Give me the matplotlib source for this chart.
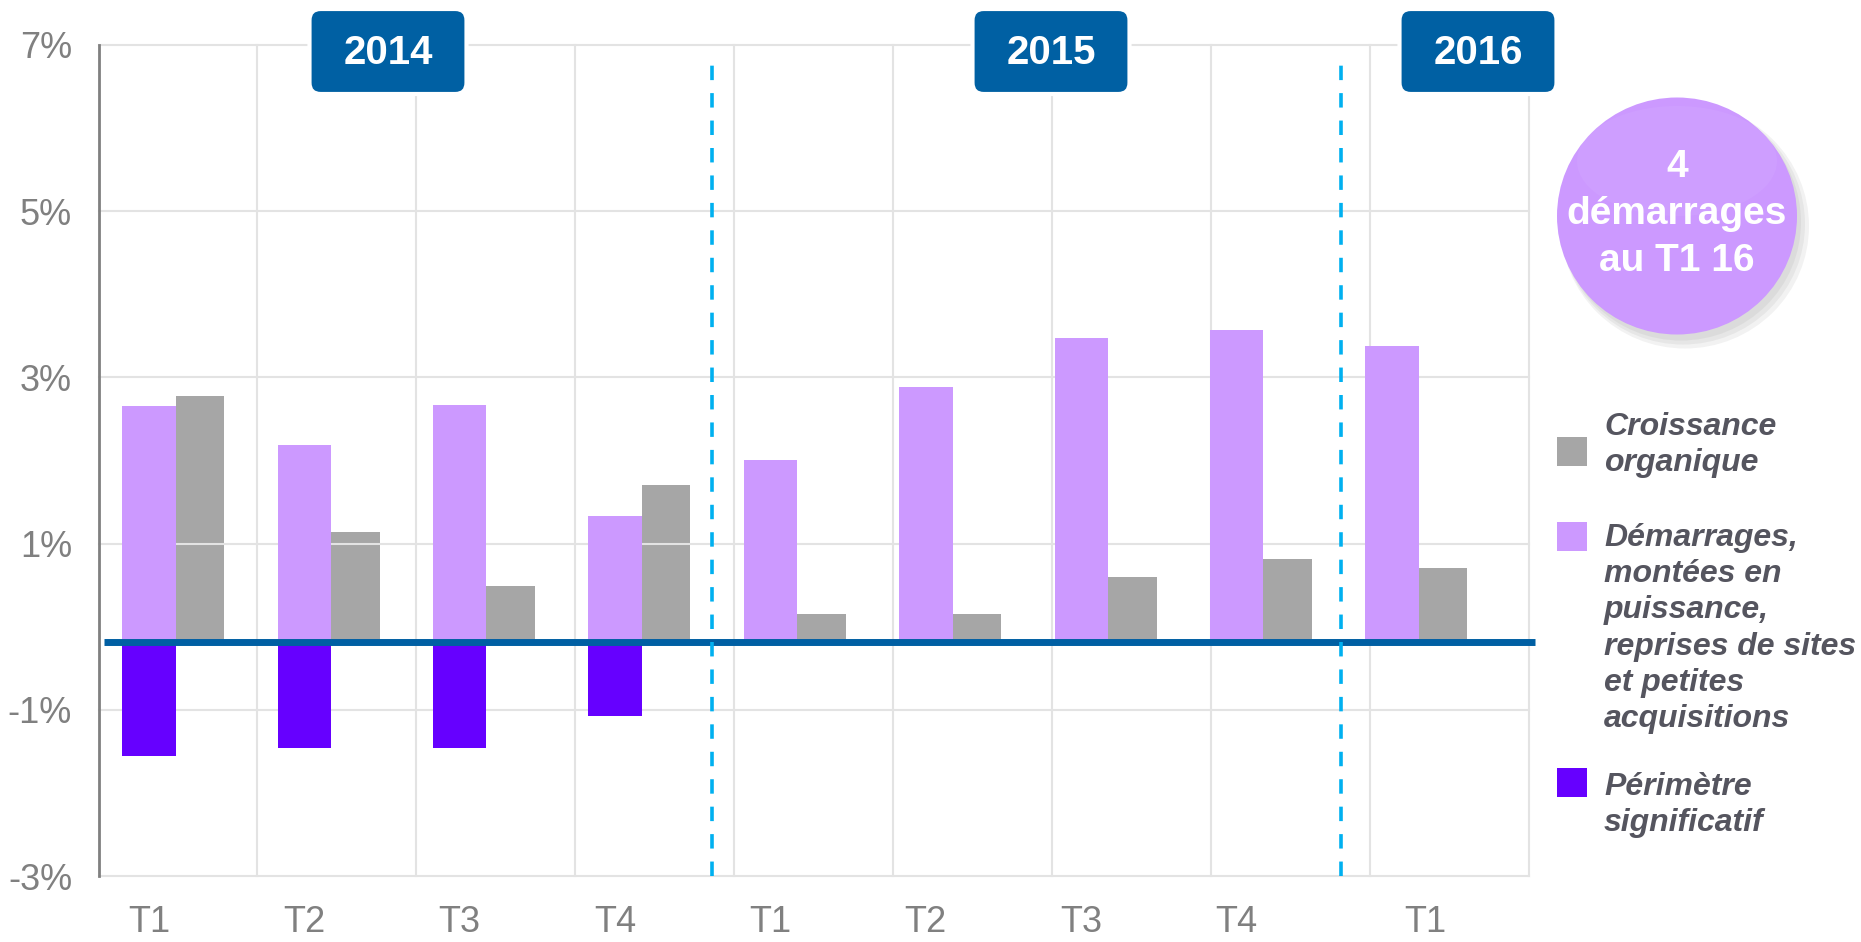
import numpy as np
import matplotlib
matplotlib.use("Agg")
import matplotlib.pyplot as plt
from matplotlib.patches import FancyBboxPatch, Ellipse, Rectangle

# data (bar heights in % measured from the blue baseline)
quarters = ['T1', 'T2', 'T3', 'T4', 'T1', 'T2', 'T3', 'T4', 'T1']
years = ['2014', '2015', '2016']
organic = [2.97, 1.33, 0.68, 1.89, 0.34, 0.34, 0.79, 1.01, 0.90]
startups = [2.85, 2.38, 2.86, 1.52, 2.20, 3.08, 3.66, 3.76, 3.57]
perimeter = [-1.36, -1.27, -1.27, -0.89, 0, 0, 0, 0, 0]
yticks = [-3, -1, 1, 3, 5, 7]
legend_labels = ['Croissance\norganique',
                 'Démarrages,\nmontées en\npuissance,\nreprises de sites\net petites\nacquisitions',
                 'Périmètre\nsignificatif']
bubble_text = '4\ndémarrages\nau T1 16'

base = -0.19
c_org, c_start, c_per = '#A6A6A6', '#CC99FF', '#6600FF'
c_blue = '#005FA3'

plt.rcParams['font.family'] = ['Liberation Sans Narrow', 'Liberation Sans', 'DejaVu Sans']

W, H = 1861, 942
fig = plt.figure(figsize=(W / 100, H / 100), dpi=100)
ax = fig.add_axes([98.5 / W, 66 / H, 1430 / W, 831 / H])
ax.set_xlim(0, 9)
ax.set_ylim(-3, 7)

# grid
for y in yticks:
    ax.plot([0, 9], [y, y], color='#E3E3E3', lw=1.5, zorder=2, clip_on=False)
for xv in range(1, 10):
    ax.plot([xv, xv], [-3, 7], color='#E3E3E3', lw=1.5, zorder=2, clip_on=False)

x = np.arange(len(quarters))
pitch = 0.978
pw, gw = 0.336, 0.306
left = 0.149 + pitch * x
ax.bar(left, startups, width=pw, bottom=base, align='edge', color=c_start, zorder=3)
ax.bar(left + pw, organic, width=gw, bottom=base, align='edge', color=c_org, zorder=1)
ax.bar(left, perimeter, width=pw, bottom=base, align='edge', color=c_per, zorder=3)

ax.plot([0.034, 9.04], [base, base], color=c_blue, lw=5, zorder=4, clip_on=False,
        solid_capstyle='butt')
for xv in [3.86, 7.82]:
    ax.plot([xv, xv], [-3, 6.9], color='#00B0F0', lw=2.6, dashes=(4, 3.6), zorder=4)

for s in ['top', 'right', 'bottom']:
    ax.spines[s].set_visible(False)
ax.spines['left'].set_color('#808080')
ax.spines['left'].set_linewidth(2)
ax.set_yticks(yticks, [f'{v}%' for v in yticks])
tick_x = left + pw / 2
tick_x[-1] += 0.21
ax.set_xticks(tick_x, quarters)
ax.tick_params(axis='y', length=0, pad=19, labelsize=26, labelcolor='#808080')
ax.tick_params(axis='x', length=0, pad=21, labelsize=26, labelcolor='#808080')

# year badges
bw, bh = 157 / W, 85 / H
for cx, yr in zip([388 / W, 1051 / W, 1478 / W], years):
    y0 = 1 - 94 / H
    fig.add_artist(FancyBboxPatch((cx - bw / 2, y0), bw, bh,
                                  boxstyle='round,pad=0,rounding_size=0.006',
                                  mutation_aspect=W / H, transform=fig.transFigure,
                                  fc='#0060A3', ec='white', lw=3, zorder=5))
    fig.text(cx, y0 + bh / 2 - 2 / H, yr, ha='center', va='center', color='white',
             fontsize=29, fontweight='bold', family='Liberation Sans', zorder=6)

# bubble
bx, by = 1677 / W, 1 - 216 / H
for k in range(3):
    fig.add_artist(Ellipse((bx + (4 + 2 * k) / W, by - (6 + 2 * k) / H),
                           (240 + 4 * k) / W, (237 + 4 * k) / H,
                           transform=fig.transFigure, fc='#808080', ec='none', alpha=0.1))
fig.add_artist(Ellipse((bx, by), 240 / W, 237 / H, transform=fig.transFigure,
                       fc='#CC99FF', ec='none'))
fig.add_artist(Ellipse((bx, by + 55 / H), 200 / W, 110 / H, transform=fig.transFigure,
                       fc='white', ec='none', alpha=0.05))
fig.text(bx, by + 2 / H, bubble_text, ha='center', va='center', color='white', fontsize=28,
         fontweight='bold', family='Liberation Sans', linespacing=1.38)

# legend
sq_tops = [437, 522, 768]
txt_tops = [412, 523, 772]
for col, lab, st, tt in zip([c_org, c_start, c_per], legend_labels, sq_tops, txt_tops):
    fig.add_artist(Rectangle((1557 / W, 1 - (st + 29) / H), 30 / W, 29 / H,
                             transform=fig.transFigure, fc=col, ec='none'))
    fig.text(1604 / W, 1 - tt / H, lab, ha='left', va='top', color='#55555F',
             fontsize=23, fontweight='bold', fontstyle='italic',
             family='Liberation Sans', linespacing=1.27)

fig.savefig('out.png', dpi=100)
